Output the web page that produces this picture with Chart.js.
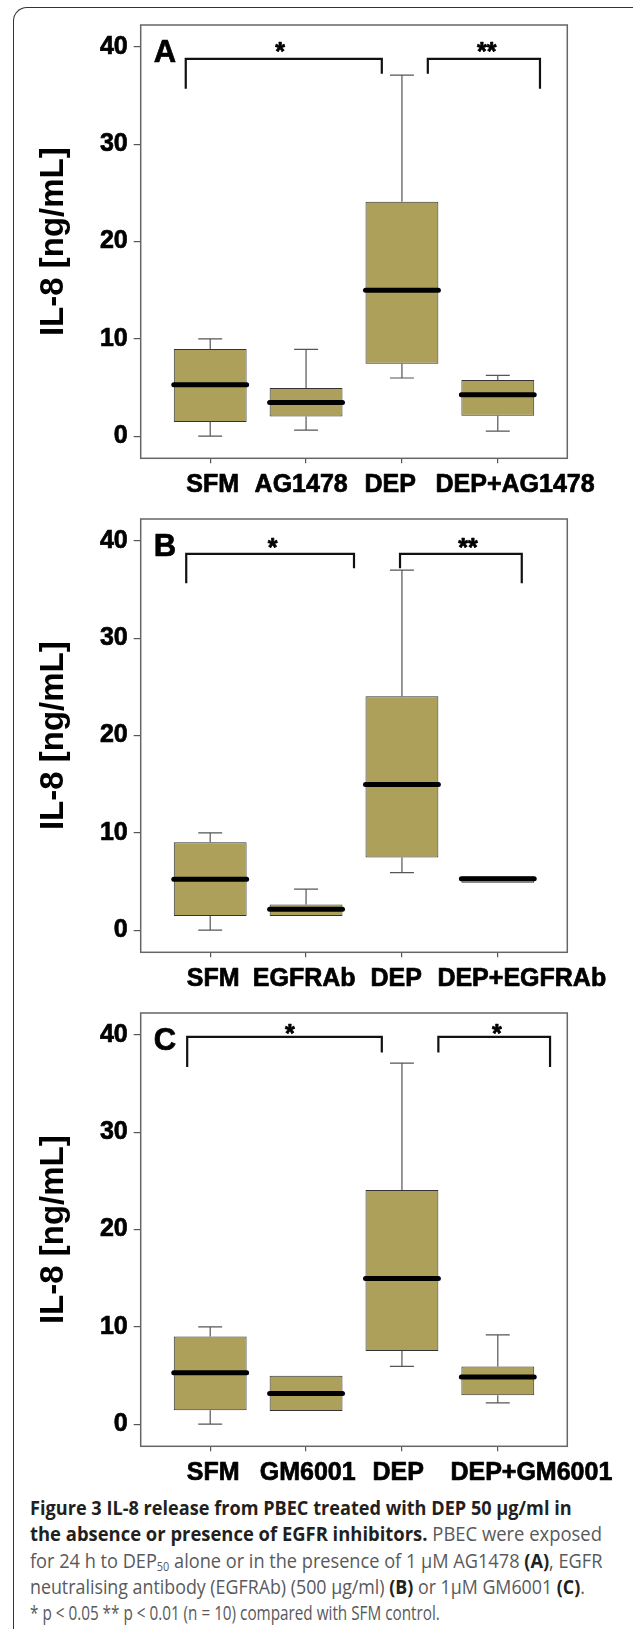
<!DOCTYPE html>
<html>
<head>
<meta charset="utf-8">
<script src="https://cdn.jsdelivr.net/npm/chart.js@4.4.0/dist/chart.umd.min.js"></script>
<style>
body { margin: 0; background: #fff; width: 633px; height: 1629px; overflow: hidden; position: relative; }
#frame { position: absolute; left: 13px; top: 7px; width: 700px; height: 1700px; border-left: 1.4px solid #333; border-top: 1.4px solid #333; border-top-left-radius: 14px; }
canvas { position: absolute; left: 0; }
#caption { position: absolute; left: 30px; top: 1495px; font-family: 'Open Sans'; font-size: 19.5px; line-height: 26.3px; color: #58595b; }
#caption div { white-space: nowrap; transform-origin: 0 0; }
#caption b { color: #231f20; font-weight: 700; }
#caption sub { font-size: 60%; vertical-align: -3px; line-height: 0; }
</style>
</head>
<body>
<div id="frame"></div>
<canvas id="panelA" width="633" height="494" style="top:0px"></canvas>
<canvas id="panelB" width="633" height="494" style="top:494px"></canvas>
<canvas id="panelC" width="633" height="494" style="top:988px"></canvas>
<div id="caption">
	<div><b>Figure 3 IL-8 release from PBEC treated with DEP 50 µg/ml in</b></div>
	<div><b>the absence or presence of EGFR inhibitors.</b> PBEC were exposed</div>
	<div>for 24 h to DEP<sub>50</sub> alone or in the presence of 1 µM AG1478 <b>(A)</b>, EGFR</div>
	<div>neutralising antibody (EGFRAb) (500 µg/ml) <b>(B)</b> or 1µM GM6001 <b>(C)</b>.</div>
	<div>* p &lt; 0.05 ** p &lt; 0.01 (n = 10) compared with SFM control.</div>
</div>
<script>
var groupsA = ['SFM', 'AG1478', 'DEP', 'DEP+AG1478'];
var groupsB = ['SFM', 'EGFRAb', 'DEP', 'DEP+EGFRAb'];
var groupsC = ['SFM', 'GM6001', 'DEP', 'DEP+GM6001'];

// box stats per group: [low whisker, q1, median, q3, high whisker]
var statsA = [[0, 1.47, 5.29, 8.97, 10], [0.62, 2.02, 3.47, 4.95, 8.93], [5.98, 7.45, 15.0, 24.1, 37.1], [0.52, 2.09, 4.26, 5.77, 6.25]];
var statsB = [[0, 1.47, 5.24, 9.04, 10], [1.46, 1.46, 2.15, 2.63, 4.23], [5.92, 7.47, 14.97, 24.04, 37.0], [4.88, 4.88, 5.29, 5.53, 5.53]];
var statsC = [[0, 1.43, 5.28, 9.0, 10], [1.35, 1.35, 3.16, 4.97, 4.97], [5.94, 7.52, 14.96, 24.07, 37.1], [2.2, 2.97, 4.86, 5.94, 9.18]];

var yTicks = [0, 10, 20, 30, 40];

// significance brackets: [x from, x to, top, left leg end, right leg end, label x, label y, label]
var bracketsA = [[0.745, 2.79, 38.77, 35.7, 37.25, 1.73, 40.1, '*'], [3.27, 4.44, 38.77, 37.25, 35.7, 3.885, 40.1, '**']];
var bracketsB = [[0.75, 2.50, 38.66, 35.65, 37.19, 1.65, 39.85, '*'], [2.98, 4.25, 38.66, 37.19, 35.65, 3.69, 39.85, '**']];
var bracketsC = [[0.76, 2.79, 39.8, 36.7, 38.2, 1.83, 40.7, '*'], [3.38, 4.545, 39.8, 38.2, 36.7, 3.99, 40.7, '*']];

// the group names are not centred on the ticks in the original, they sit where the text was typed
var labelXA = [1.026, 1.949, 2.877, 4.18];
var labelXB = [1.031, 1.98, 2.94, 4.25];
var labelXC = [1.031, 2.017, 2.96, 4.35];

var boxFill = '#aca05a';
var boldFont = "'Liberation Sans', Arial, sans-serif";
var panelInfo = {};

Chart.defaults.font.family = boldFont;

// bold text drawn with a thin outline so it looks as heavy as the print
function heavyText(ctx, text, x, y)
{
	ctx.strokeText(text, x, y);
	ctx.fillText(text, x, y);
}

var boxExtras = {
	id: 'boxExtras',
	beforeDatasetsDraw: function (chart)
	{
		// whiskers go under the boxes
		var info = panelInfo[chart.canvas.id];
		var ctx = chart.ctx;
		var xs = chart.scales.x, ys = chart.scales.y;
		ctx.save();
		ctx.strokeStyle = '#555';
		ctx.lineWidth = 1.2;
		info.stats.forEach(function (s, i)
		{
			var x = xs.getPixelForValue(i + 1);
			var c0 = xs.getPixelForValue(i + 1 - 0.125), c1 = xs.getPixelForValue(i + 1 + 0.125);
			ctx.beginPath();
			if (s[4] > s[3])
			{
				ctx.moveTo(x, ys.getPixelForValue(s[3]));
				ctx.lineTo(x, ys.getPixelForValue(s[4]));
				ctx.moveTo(c0, ys.getPixelForValue(s[4]));
				ctx.lineTo(c1, ys.getPixelForValue(s[4]));
			}
			if (s[0] < s[1])
			{
				ctx.moveTo(x, ys.getPixelForValue(s[1]));
				ctx.lineTo(x, ys.getPixelForValue(s[0]));
				ctx.moveTo(c0, ys.getPixelForValue(s[0]));
				ctx.lineTo(c1, ys.getPixelForValue(s[0]));
			}
			ctx.stroke();
		});
		ctx.restore();
	},
	afterDatasetsDraw: function (chart)
	{
		var info = panelInfo[chart.canvas.id];
		var ctx = chart.ctx;
		var xs = chart.scales.x, ys = chart.scales.y;
		var area = chart.chartArea;
		var bars = chart.getDatasetMeta(0).data;
		ctx.save();

		// medians
		ctx.strokeStyle = '#000';
		ctx.lineWidth = 5;
		ctx.lineCap = 'round';
		info.stats.forEach(function (s, i)
		{
			var b = bars[i];
			var y = ys.getPixelForValue(s[2]);
			ctx.beginPath();
			ctx.moveTo(b.x - b.width / 2, y);
			ctx.lineTo(b.x + b.width / 2, y);
			ctx.stroke();
		});

		// plot box
		ctx.lineCap = 'butt';
		ctx.strokeStyle = '#666';
		ctx.lineWidth = 1.5;
		ctx.strokeRect(area.left, area.top, area.right - area.left, area.bottom - area.top);

		// brackets and stars
		ctx.strokeStyle = '#111';
		ctx.lineWidth = 2.2;
		ctx.fillStyle = '#000';
		info.brackets.forEach(function (b)
		{
			var x1 = xs.getPixelForValue(b[0]), x2 = xs.getPixelForValue(b[1]);
			ctx.beginPath();
			ctx.moveTo(x1, ys.getPixelForValue(b[3]));
			ctx.lineTo(x1, ys.getPixelForValue(b[2]));
			ctx.lineTo(x2, ys.getPixelForValue(b[2]));
			ctx.lineTo(x2, ys.getPixelForValue(b[4]));
			ctx.stroke();
		});

		ctx.font = 'bold 25px ' + boldFont;
		ctx.textAlign = 'center';
		ctx.textBaseline = 'alphabetic';
		ctx.strokeStyle = '#000';
		ctx.lineWidth = 0.7;
		ctx.lineJoin = 'round';
		info.brackets.forEach(function (b)
		{
			heavyText(ctx, b[7], xs.getPixelForValue(b[5]), ys.getPixelForValue(b[6]) + 14);
		});

		// group names under the axis
		info.groups.forEach(function (g, i)
		{
			heavyText(ctx, g, xs.getPixelForValue(info.labelX[i]), area.bottom + 34);
		});

		// panel letter
		ctx.font = 'bold 31px ' + boldFont;
		ctx.textAlign = 'left';
		heavyText(ctx, info.letter, area.left + 13, area.top + 37);
		ctx.restore();
	}
};

function makePanel(id, letter, groups, stats, brackets, labelX)
{
	panelInfo[id] = {letter: letter, groups: groups, stats: stats, brackets: brackets, labelX: labelX};
	return new Chart(document.getElementById(id).getContext('2d'), {
		type: 'bar',
		data: {
			datasets: [{
				data: stats.map(function (s, i) { return {x: i + 1, y: [s[1], s[3]]}; }),
				backgroundColor: boxFill,
				borderColor: '#333',
				borderWidth: 1,
				borderSkipped: false,
				barPercentage: 0.76,
				categoryPercentage: 1
			}]
		},
		options: {
			responsive: false,
			animation: false,
			layout: {padding: {top: 25, right: 65.7, bottom: 0, left: 0}},
			plugins: {legend: {display: false}, tooltip: {enabled: false}},
			scales: {
				x: {
					type: 'linear',
					min: 0.275,
					max: 4.725,
					offset: false,
					afterBuildTicks: function (scale) { scale.ticks = groups.map(function (g, i) { return {value: i + 1}; }); },
					afterFit: function (scale) { scale.height = 35.7; },
					ticks: {display: false},
					grid: {drawOnChartArea: false, tickLength: 5, color: '#555', lineWidth: 1.2, offset: false},
					border: {display: false}
				},
				y: {
					min: -2.27,
					max: 42.25,
					afterBuildTicks: function (scale) { scale.ticks = yTicks.map(function (v) { return {value: v}; }); },
					afterFit: function (scale) { scale.width = 140.7; },
					ticks: {
						padding: 6, color: '#000', font: {size: 25, weight: 'bold'},
						textStrokeColor: '#000', textStrokeWidth: 0.7
					},
					grid: {drawOnChartArea: false, tickLength: 7, color: '#555', lineWidth: 1.2},
					border: {display: false},
					title: {
						display: true, text: 'IL-8 [ng/mL]', color: '#000',
						font: {size: 33, weight: 'bold'}, padding: {top: 34, bottom: 0}
					}
				}
			}
		},
		plugins: [boxExtras]
	});
}

makePanel('panelA', 'A', groupsA, statsA, bracketsA, labelXA);
makePanel('panelB', 'B', groupsB, statsB, bracketsB, labelXB);
makePanel('panelC', 'C', groupsC, statsC, bracketsC, labelXC);

// squeeze caption lines to the widths of the printed ones
var captionWidths = [571, 580, 572, 561, 481];
document.querySelectorAll('#caption div').forEach(function (el, i)
{
	var w = el.scrollWidth;
	el.style.width = w + 'px';
	el.style.transform = 'scaleX(' + (captionWidths[i] / w) + ')';
});
</script>
</body>
</html>
